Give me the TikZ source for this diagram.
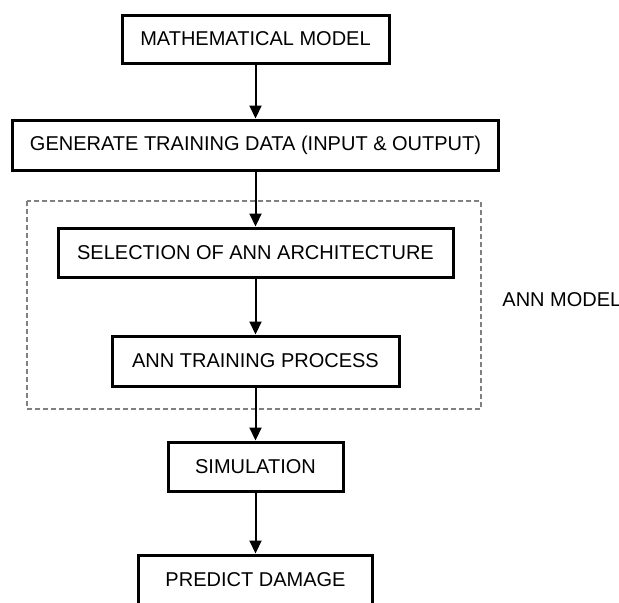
\documentclass[tikz,border=0pt]{standalone}
\usepackage{fontspec}
\setmainfont{Liberation Sans}
\usetikzlibrary{arrows.meta,positioning,calc}

\begin{document}
\begin{tikzpicture}[>={Triangle[length=6.5pt,width=6pt]}, font=\fontsize{10}{12}\selectfont,
	  box/.style={draw, line width=1.5pt, minimum height=24.5pt, inner sep=0pt},
	  flow/.style={->, line width=1pt}]
	  \useasboundingbox (0,0) rectangle (309.5pt,-301pt);
	  \node[box, minimum width=133.5pt, minimum height=24pt] (math) at (127.75pt,-19.5pt) {MATHEMATICAL MODEL};
	  \node[box, minimum width=243pt, minimum height=25pt] (data) at (127.75pt,-72.5pt) {GENERATE TRAINING DATA (INPUT \& OUTPUT)};
	  \node[box, minimum width=197.5pt] (arch) at (127.75pt,-126.25pt) {SELECTION OF ANN ARCHITECTURE};
	  \node[box, minimum width=143.5pt, minimum height=25pt] (train) at (127.75pt,-180.5pt) {ANN TRAINING PROCESS};
	  \node[box, minimum width=87.5pt] (sim) at (127.75pt,-233.25pt) {SIMULATION};
	  \node[box, minimum width=117pt] (pred) at (127.75pt,-289.75pt) {PREDICT DAMAGE};
	  % ANN model frame
	  \draw[dashed, gray, line width=0.6pt, dash pattern=on 2.5pt off 1.5pt] (13.5pt,-100.5pt) rectangle (240.5pt,-204.5pt);
	  \node[anchor=west, inner sep=0pt] (annlbl) at (251pt,-150pt) {ANN MODEL};
	  \draw[flow] (math) -- (data);
	  \draw[flow] (data) -- (arch);
	  \draw[flow] (arch) -- (train);
	  \draw[flow] (train) -- (sim);
	  \draw[flow] (sim) -- (pred);
	\end{tikzpicture}
\end{document}
